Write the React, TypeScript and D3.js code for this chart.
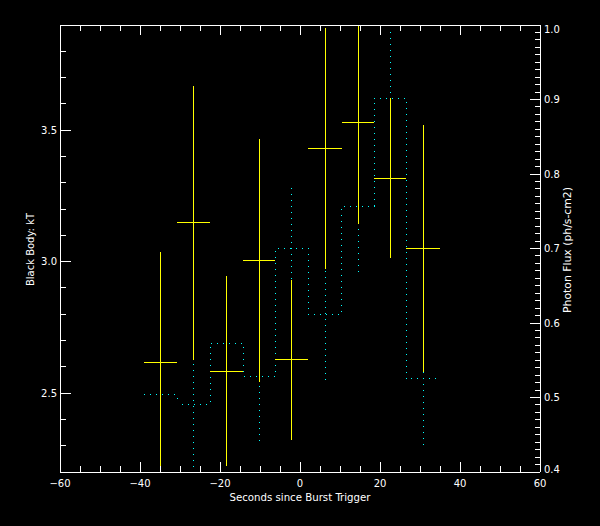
import React from "react";
import * as d3 from "d3";

// Time bin edges (seconds since burst trigger)
const binEdges = [-39, -30.75, -22.4, -14.25, -6.2, 2.1, 10.4, 18.6, 26.6, 35];
// Black body kT (left axis) and its errors
const kT = [2.617, 3.147, 2.584, 3.006, 2.626, 3.431, 3.53, 3.317, 3.051];
const kTErr = [0.42, 0.52, 0.363, 0.462, 0.305, 0.459, 0.387, 0.305, 0.469];
// Photon flux (right axis) and its errors
const flux = [0.504, 0.491, 0.573, 0.528, 0.7, 0.612, 0.757, 0.902, 0.525];
const fluxErr = [0.088, 0.092, 0.088, 0.087, 0.081, 0.088, 0.089, 0.09, 0.089];

const xTicksMajor = [-60, -40, -20, 0, 20, 40, 60];
const leftTicksMajor = [2.5, 3.0, 3.5];
const rightTicksMajor = [0.4, 0.5, 0.6, 0.7, 0.8, 0.9, 1.0];

const W = 600;
const H = 526;
const L = 60, R = 540, T = 25, B = 472;

export default function App() {
  const x = d3.scaleLinear().domain([-60, 60]).range([L, R]);
  const yL = d3.scaleLinear().domain([2.2, 3.9]).range([B, T]);
  const yR = d3.scaleLinear().domain([0.4, 1.0]).range([B, T]);

  const xMinor = d3.range(-60, 60.001, 5).filter((v) => !xTicksMajor.some((m) => Math.abs(m - v) < 1e-6));
  const lMinor = d3.range(2.3, 3.85, 0.1).map((v) => +v.toFixed(2)).filter((v) => !leftTicksMajor.some((m) => Math.abs(m - v) < 1e-6));
  const rMinor = d3.range(0.41, 1.0, 0.01).map((v) => +v.toFixed(3)).filter((v) => !rightTicksMajor.some((m) => Math.abs(m - v) < 1e-6));

  const histPts: [number, number][] = [];
  flux.forEach((f, i) => {
    histPts.push([x(binEdges[i]), yR(f)]);
    histPts.push([x(binEdges[i + 1]), yR(f)]);
  });
  const histPath = d3.line()(histPts) || "";

  const font = "'DejaVu Sans', sans-serif";
  const fmt = d3.format(".1f");
  const fmtX = (v: number) => (v < 0 ? "\u2212" + Math.abs(v) : String(v));

  return (
    <div style={{ position: "fixed", left: 0, top: 0, width: W, height: H }}>
      <svg width={W} height={H} style={{ display: "block" }}>
        <defs>
          <clipPath id="plotClip">
            <rect x={L} y={T} width={R - L} height={B - T + 1} />
          </clipPath>
        </defs>
        <rect x={0} y={0} width={W} height={H} fill="#000" />

        <g clipPath="url(#plotClip)" shapeRendering="crispEdges">
          {/* flux histogram (dotted cyan) */}
          <path d={histPath} fill="none" stroke="#00ffff" strokeWidth={1} strokeDasharray="1,5" />
          {flux.map((f, i) => {
            const cx = x((binEdges[i] + binEdges[i + 1]) / 2);
            return (
              <line key={"fe" + i} x1={cx} x2={cx} y1={yR(f - fluxErr[i])} y2={yR(f + fluxErr[i])}
                stroke="#00ffff" strokeWidth={1} strokeDasharray="1,5" />
            );
          })}
          {/* kT crosses (yellow) */}
          {kT.map((k, i) => {
            const cx = x((binEdges[i] + binEdges[i + 1]) / 2);
            return (
              <g key={"k" + i} stroke="#ffff00" strokeWidth={1}>
                <line x1={x(binEdges[i])} x2={x(binEdges[i + 1])} y1={yL(k)} y2={yL(k)} />
                <line x1={cx} x2={cx} y1={yL(k - kTErr[i])} y2={yL(k + kTErr[i])} />
              </g>
            );
          })}
        </g>

        {/* axes frame */}
        <g stroke="#fff" strokeWidth={1} shapeRendering="crispEdges" fill="none">
          <line x1={L} x2={R} y1={B} y2={B} />
          <line x1={L} x2={R} y1={T} y2={T} />
          <line x1={L} x2={L} y1={T} y2={B} />
          <line x1={R} x2={R} y1={T} y2={B} />
          {xTicksMajor.map((v) => (
            <g key={"xM" + v}>
              <line x1={x(v)} x2={x(v)} y1={B} y2={B - 10} />
              <line x1={x(v)} x2={x(v)} y1={T} y2={T + 10} />
            </g>
          ))}
          {xMinor.map((v) => (
            <g key={"xm" + v}>
              <line x1={x(v)} x2={x(v)} y1={B} y2={B - 6} />
              <line x1={x(v)} x2={x(v)} y1={T} y2={T + 6} />
            </g>
          ))}
          {leftTicksMajor.map((v) => (
            <line key={"lM" + v} x1={L} x2={L + 11} y1={yL(v)} y2={yL(v)} />
          ))}
          {lMinor.map((v) => (
            <line key={"lm" + v} x1={L} x2={L + 6} y1={yL(v)} y2={yL(v)} />
          ))}
          {rightTicksMajor.map((v) => (
            <line key={"rM" + v} x1={R} x2={R - 10} y1={yR(v)} y2={yR(v)} />
          ))}
          {rMinor.map((v) => (
            <line key={"rm" + v} x1={R} x2={R - 5} y1={yR(v)} y2={yR(v)} />
          ))}
        </g>

        {/* tick labels */}
        <g fill="#fff" fontFamily={font} fontSize={10}>
          {xTicksMajor.map((v) => (
            <text key={"xl" + v} x={x(v)} y={487} textAnchor="middle">{fmtX(v)}</text>
          ))}
          {leftTicksMajor.map((v) => (
            <text key={"ll" + v} x={57} y={yL(v)} dy="0.36em" textAnchor="end">{fmt(v)}</text>
          ))}
          {rightTicksMajor.map((v) => (
            <text key={"rl" + v} x={544} y={Math.min(469.5, Math.max(29.5, yR(v)))} dy="0.36em" textAnchor="start">{fmt(v)}</text>
          ))}
          <text x={300} y={501} textAnchor="middle" textLength={141} lengthAdjust="spacingAndGlyphs">Seconds since Burst Trigger</text>
          <text transform="translate(33.5,249.5) rotate(-90)" textAnchor="middle" textLength={73} lengthAdjust="spacingAndGlyphs">Black Body: kT</text>
          <text transform="translate(570.5,250) rotate(-90)" textAnchor="middle" textLength={126} lengthAdjust="spacingAndGlyphs">Photon Flux (ph/s-cm2)</text>
        </g>
      </svg>
    </div>
  );
}
